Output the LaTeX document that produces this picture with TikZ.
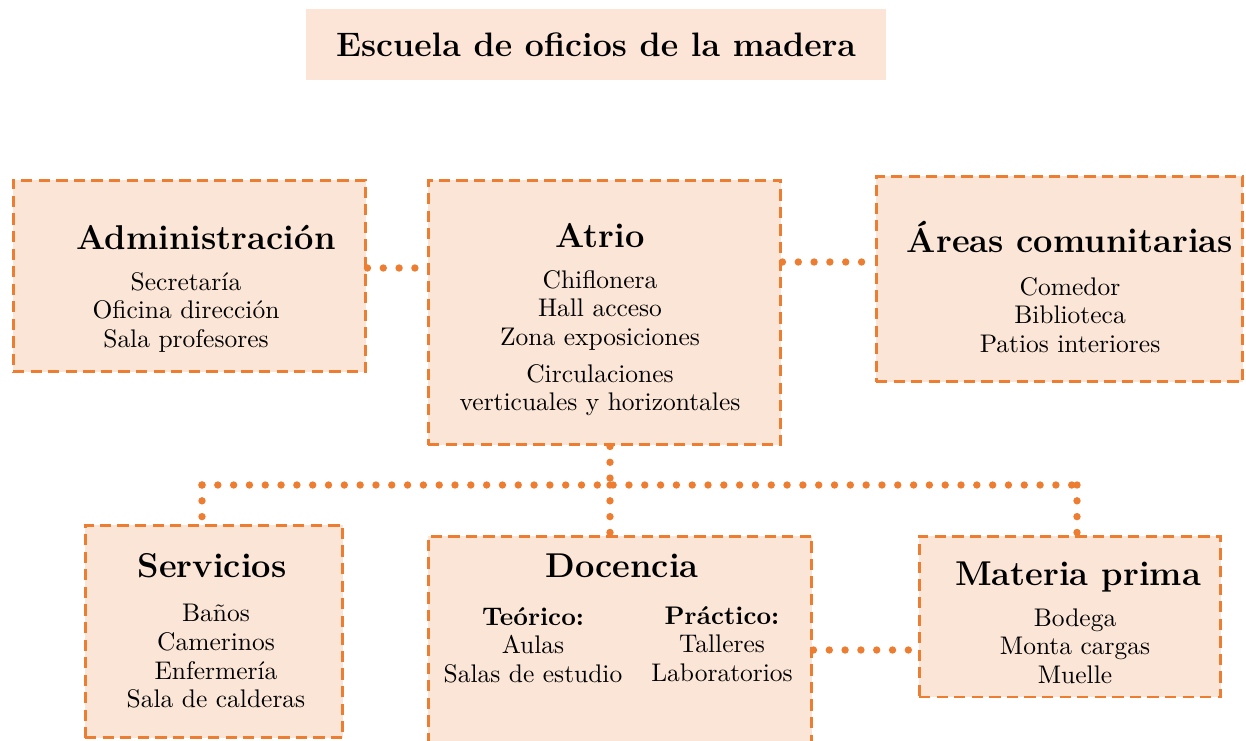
\documentclass[tikz,border=0pt]{standalone}
\usepackage{fontspec}
\setmainfont{Latin Modern Roman}
\newfontfamily\bodyfont{lmroman10}[Extension=.otf, UprightFont=*-regular, BoldFont=*-bold]
\definecolor{orng}{HTML}{ED7D31}
\definecolor{peach}{HTML}{FBE5D6}
\definecolor{titlepeach}{HTML}{FCE4D6}
\begin{document}
\begin{tikzpicture}[x=0.02cm,y=-0.02cm,
  box/.style={draw=orng, fill=peach, line width=1.7pt, dash pattern=on 6.4pt off 3.6pt, inner sep=0pt},
  dotline/.style={draw=orng, line width=4.2pt, line cap=round, dash pattern=on 0pt off 9pt},
  hdr/.style={font=\fontsize{19.6}{22}\selectfont\bfseries, inner sep=0pt},
  txt/.style={font=\bodyfont\fontsize{14.5}{16.3}\selectfont, align=center, inner sep=0pt},
]
\useasboundingbox (0,0) rectangle (1246,740);
\clip (0,0) rectangle (1246,740);
% title
\node[fill=titlepeach, minimum width=11.6cm, minimum height=1.42cm, font=\fontsize{19.3}{22}\selectfont\bfseries] (title) at (596,44.5) {Escuela de oficios de la madera};
% boxes
\node[box, minimum width=7.06cm, minimum height=3.84cm] (adm) at (189.5,276) {};
\node[box, minimum width=7.06cm, minimum height=5.3cm] (atr) at (604.5,312.5) {};
\node[box, minimum width=7.34cm, minimum height=4.12cm] (are) at (1059.5,279) {};
\node[box, minimum width=5.16cm, minimum height=4.26cm] (srv) at (214,631.5) {};
\node[box, minimum width=7.68cm, minimum height=4.6cm] (doc) at (620,651) {};
\node[box, minimum width=6.04cm, minimum height=3.22cm] (mat) at (1070,616.5) {};
% headers
\node[hdr] (admh) at (206,237) {Administración};
\node[hdr] (atrh) at (600,236) {Atrio};
\node[hdr] (areh) at (1070,237) {Áreas comunitarias};
\node[hdr] (srvh) at (212,566) {Servicios};
\node[hdr] (doch) at (622,566) {Docencia};
\node[hdr] (math) at (1078,577) {Materia prima};
% body
\node[txt, anchor=north] (admt) at (186,272) {Secretaría\\Oficina dirección\\Sala profesores};
\node[txt, anchor=north] (atrt) at (600,270) {Chiflonera\\Hall acceso\\Zona exposiciones};
\node[txt, anchor=north] (atrt2) at (600,364) {Circulaciones\\verticuales y horizontales};
\node[txt, anchor=north] (aret) at (1070,277) {Comedor\\Biblioteca\\Patios interiores};
\node[txt, anchor=north] (srvt) at (216,604) {Baños\\Camerinos\\Enfermería\\Sala de calderas};
\node[txt, anchor=north] (doct1) at (533,607) {\bfseries Teórico:\\Aulas\\Salas de estudio};
\node[txt, anchor=north] (doct2) at (722,606) {\bfseries Práctico:\\Talleres\\Laboratorios};
\node[txt, anchor=north] (matt) at (1075,608) {Bodega\\Monta cargas\\Muelle};
% connectors
\coordinate (j) at (610,485);
\coordinate (jl) at (202,485);
\coordinate (jr) at (1077,485);
\draw[dotline] (adm.east |- 0,268) -- (atr.west |- 0,268);
\draw[dotline] (atr.east |- 0,262) -- (are.west |- 0,262);
\draw[dotline] (doc.east |- 0,650) -- (mat.west |- 0,650);
\draw[dotline] (atr.south -| j) -- (j);
\draw[dotline] (jl) -- (jr);
\draw[dotline] (jl) -- (srv.north -| jl);
\draw[dotline] (j) -- (doc.north -| j);
\draw[dotline] (jr) -- (mat.north -| jr);
\end{tikzpicture}
\end{document}
